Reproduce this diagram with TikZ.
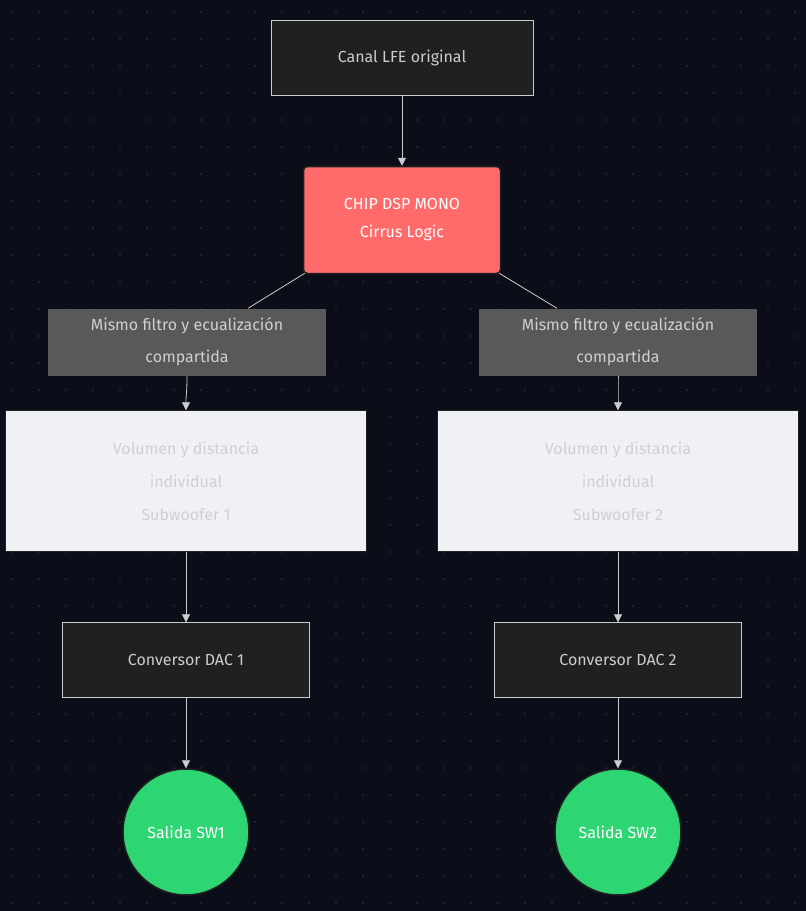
\documentclass[tikz,border=0pt]{standalone}
\usepackage{fontspec}
\setmainfont{Fira Sans}
\usetikzlibrary{arrows.meta}
\definecolor{bgnavy}{HTML}{0B0D18}
\definecolor{dotgray}{HTML}{252836}
\definecolor{boxdark}{HTML}{1F2020}
\definecolor{boxline}{HTML}{CCCCCC}
\definecolor{chipred}{HTML}{FF6B6B}
\definecolor{lblgray}{HTML}{595959}
\definecolor{volfill}{HTML}{F0F1F5}
\definecolor{voltext}{HTML}{D0D0D4}
\definecolor{outgreen}{HTML}{2ED573}
\tikzset{
  box/.style={draw=boxline, fill=boxdark, text=boxline, minimum width=262pt, minimum height=75pt, align=center, font=\fontsize{16}{24}\selectfont},
  dac/.style={box, minimum width=247pt},
  chip/.style={draw=boxdark, fill=chipred, text=white, rounded corners=4pt, line width=1.5pt, minimum width=197pt, minimum height=107pt, align=center, font=\fontsize{16}{28}\selectfont},
  lbl/.style={fill=lblgray, text=voltext, minimum width=278pt, minimum height=67pt, align=center, inner sep=0pt, font=\fontsize{16}{32}\selectfont},
  vol/.style={draw=boxdark, fill=volfill, text=voltext, minimum width=361pt, minimum height=141pt, align=center, font=\fontsize{16}{33}\selectfont},
  salida/.style={circle, draw=boxdark, fill=outgreen, text=white, line width=1.5pt, minimum size=126pt, inner sep=0pt, font=\fontsize{16}{24}\selectfont},
  link/.style={draw=boxline, line width=0.8pt},
  arr/.style={link, -{Triangle[length=8pt,width=8pt]}}
}
\begin{document}
\begin{tikzpicture}[x=1pt,y=-1pt]
  \fill[bgnavy] (0,0) rectangle (806,911);
  \useasboundingbox (0,0) rectangle (806,911);
  % dotted background
  \foreach \i in {0,...,30}
    \foreach \j in {0,...,34}
      \fill[dotgray] (12+27*\i,12+27*\j) circle (1.2pt);

  \node[box] (lfe) at (402,58) {Canal LFE original};
  \node[chip] (dsp) at (402,220) {CHIP DSP MONO\\Cirrus Logic};
  \node[lbl] (lblA) at (187,342) {Mismo filtro y ecualización\\compartida};
  \node[lbl] (lblB) at (618,342) {Mismo filtro y ecualización\\compartida};
  \node[vol] (volA) at (186,481) {Volumen y distancia\\individual\\ Subwoofer 1};
  \node[vol] (volB) at (618,481) {Volumen y distancia\\individual\\ Subwoofer 2};
  \node[dac] (dacA) at (186,660) {Conversor DAC 1};
  \node[dac] (dacB) at (618,660) {Conversor DAC 2};
  \node[salida] (swA) at (186,832) {Salida SW1};
  \node[salida] (swB) at (618,832) {Salida SW2};

  % connectors
  \draw[arr] (lfe) -- (dsp);
  \draw[link] (dsp.south west) ++(2,-1) -- (lblA.north -| 248,0);
  \draw[link] (dsp.south east) ++(-2,-1) -- (lblB.north -| 557,0);
  \draw[arr] (lblA.south) .. controls (187,395) and (186,392) .. (volA.north);
  \draw[arr] (lblB.south) .. controls (618,395) and (618,392) .. (volB.north);
  \draw[arr] (volA) -- (dacA);
  \draw[arr] (volB) -- (dacB);
  \draw[arr] (dacA) -- (swA);
  \draw[arr] (dacB) -- (swB);
\end{tikzpicture}
\end{document}
